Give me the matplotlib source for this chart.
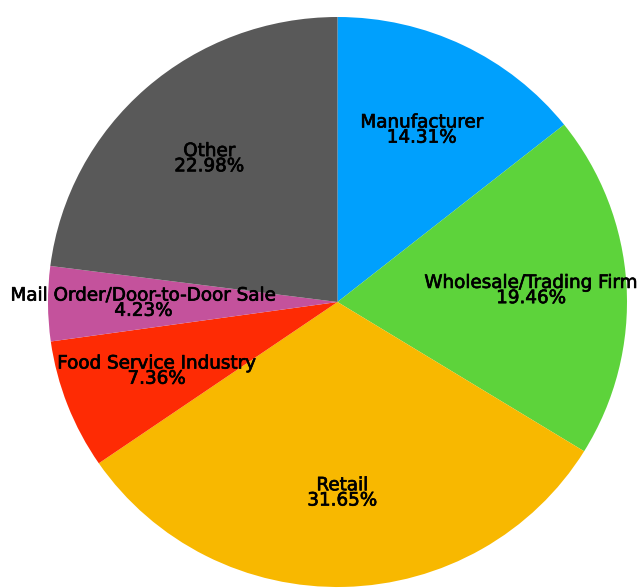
import matplotlib
matplotlib.use("Agg")
import matplotlib.pyplot as plt
import matplotlib.patheffects as pe

# slice data, clockwise from 12 o'clock
labels = ["Manufacturer", "Wholesale/Trading Firm", "Retail",
          "Food Service Industry", "Mail Order/Door-to-Door Sale", "Other"]
shares = [14.31, 19.46, 31.65, 7.36, 4.23, 22.98]
colors = ["#00A0FD", "#5DD33B", "#F8B800", "#FE2B04", "#C4529C", "#595959"]

plt.rcParams['font.family'] = ['DejaVu Sans']

fig = plt.figure(figsize=(6.41, 5.88), dpi=100)
# pie is slightly clipped at the bottom in the reference
ax = fig.add_axes([48/641, 1/588, 579/641, 570/588])

wedges, texts, autotexts = ax.pie(
    shares, colors=colors, startangle=90, counterclock=False,
    autopct="%.2f%%", pctdistance=0.67, radius=1,
    wedgeprops=dict(linewidth=0),
    textprops=dict(fontsize=13.2, color="black", linespacing=0.8))

for t, lab, v in zip(autotexts, labels, shares):
    t.set_text(f"{lab}\n{v:.2f}%")
    t.set_ha("center")
    t.set_va("center")
    # the reference labels are a little heavier than DejaVu regular
    t.set_path_effects([pe.withStroke(linewidth=0.5, foreground="black")])

ax.set_aspect("auto")
ax.set_xlim(-1, 1)
ax.set_ylim(-1, 1)
ax.axis("off")

fig.savefig("out.png", dpi=100)
